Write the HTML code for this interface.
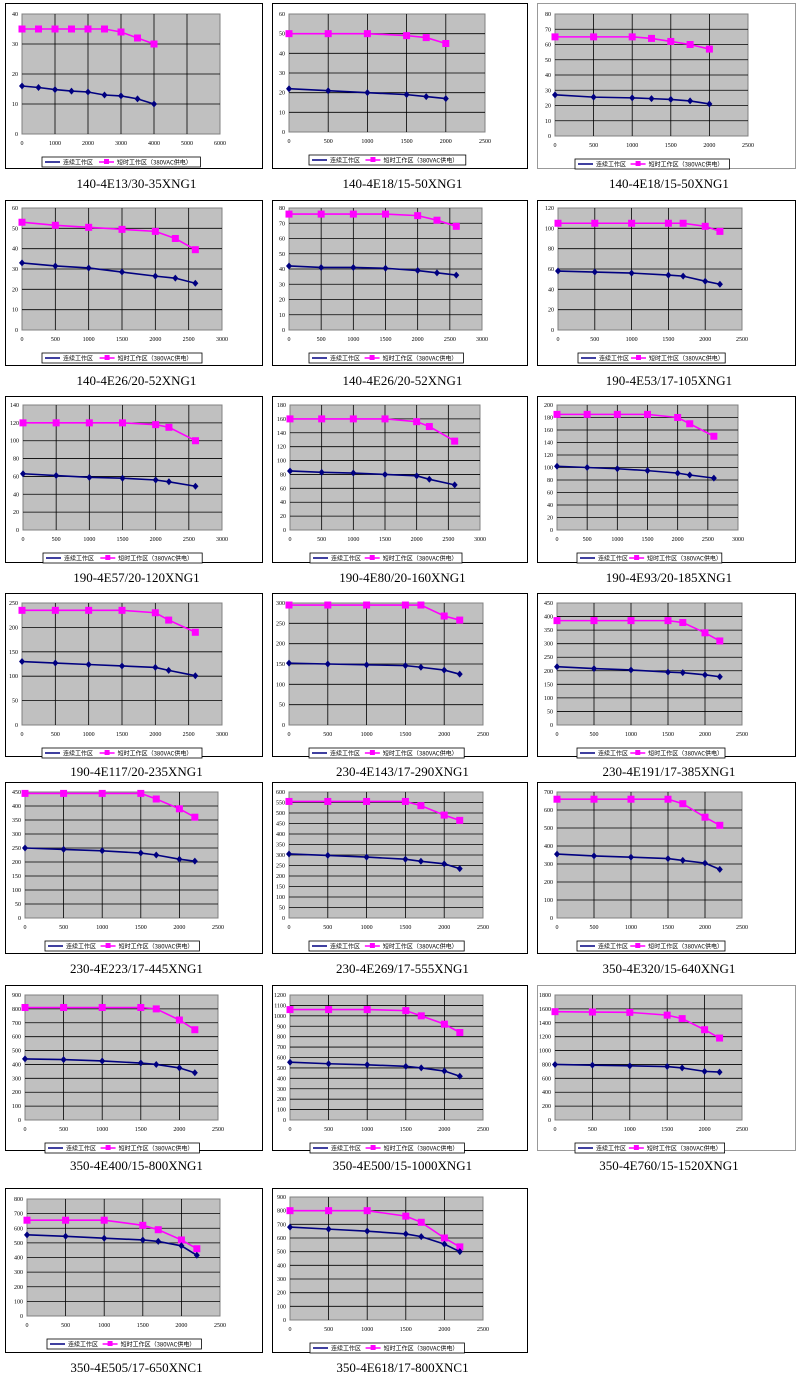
<!DOCTYPE html>
<html><head><meta charset="utf-8">
<style>
body{margin:0;background:#fff;width:800px;height:1384px;overflow:hidden}
svg{display:block}
</style></head><body>
<svg id="s" width="800" height="1384" xmlns="http://www.w3.org/2000/svg"></svg>
<script>
const C=[
// box x,y,w,h, plot l,r,t,b, xmax,xstep, ymax,ystep, caption, blue, pink
[5,3,257,165,22,220,14,134,6000,1000,40,10,"140-4E13/30-35XNG1",[[0,16],[500,15.5],[1000,14.8],[1500,14.3],[2000,14],[2500,13],[3000,12.7],[3500,11.7],[4000,10]],[[0,35],[500,35],[1000,35],[1500,35],[2000,35],[2500,35],[3000,34],[3500,32],[4000,30]]],
[272,3,255,165,289,485,14,132,2500,500,60,10,"140-4E18/15-50XNG1",[[0,22],[500,21],[1000,20],[1500,19],[1750,18],[2000,17]],[[0,50],[500,50],[1000,50],[1500,49],[1750,48],[2000,45]]],
[537,3,258,165,555,748,14,136,2500,500,80,10,"140-4E18/15-50XNG1",[[0,27],[500,25.5],[1000,25],[1250,24.5],[1500,24],[1750,23],[2000,21]],[[0,65],[500,65],[1000,65],[1250,64],[1500,62],[1750,60],[2000,57]]],
[5,200,257,165,22,222,208,330,3000,500,60,10,"140-4E26/20-52XNG1",[[0,33],[500,31.5],[1000,30.5],[1500,28.5],[2000,26.5],[2300,25.5],[2600,23]],[[0,53],[500,51.5],[1000,50.5],[1500,49.5],[2000,48.5],[2300,45],[2600,39.5]]],
[272,200,255,165,289,482,208,330,3000,500,80,10,"140-4E26/20-52XNG1",[[0,42],[500,41],[1000,41],[1500,40.5],[2000,39],[2300,37.5],[2600,36]],[[0,76],[500,76],[1000,76],[1500,76],[2000,75],[2300,72],[2600,68]]],
[537,200,258,165,558,742,208,330,2500,500,120,20,"190-4E53/17-105XNG1",[[0,58],[500,57],[1000,56],[1500,54],[1700,53],[2000,48],[2200,45]],[[0,105],[500,105],[1000,105],[1500,105],[1700,105],[2000,102],[2200,97]]],
[5,396,257,166,23,222,405,530,3000,500,140,20,"190-4E57/20-120XNG1",[[0,63],[500,61],[1000,59],[1500,58],[2000,56],[2200,54],[2600,49]],[[0,120],[500,120],[1000,120],[1500,120],[2000,118],[2200,115],[2600,100]]],
[272,396,255,166,290,480,405,530,3000,500,180,20,"190-4E80/20-160XNG1",[[0,85],[500,83],[1000,82],[1500,80],[2000,78],[2200,73],[2600,65]],[[0,160],[500,160],[1000,160],[1500,160],[2000,156],[2200,149],[2600,128]]],
[537,396,258,166,557,738,405,530,3000,500,200,20,"190-4E93/20-185XNG1",[[0,102],[500,100],[1000,98],[1500,95],[2000,91],[2200,88],[2600,83]],[[0,185],[500,185],[1000,185],[1500,185],[2000,180],[2200,170],[2600,150]]],
[5,593,257,163,22,222,603,725,3000,500,250,50,"190-4E117/20-235XNG1",[[0,130],[500,127],[1000,124],[1500,121],[2000,118],[2200,112],[2600,101]],[[0,235],[500,235],[1000,235],[1500,235],[2000,230],[2200,215],[2600,190]]],
[272,593,255,163,289,483,603,725,2500,500,300,50,"230-4E143/17-290XNG1",[[0,152],[500,150],[1000,148],[1500,146],[1700,142],[2000,135],[2200,125]],[[0,295],[500,295],[1000,295],[1500,295],[1700,295],[2000,268],[2200,258]]],
[537,593,258,163,557,742,603,725,2500,500,450,50,"230-4E191/17-385XNG1",[[0,215],[500,208],[1000,203],[1500,195],[1700,193],[2000,185],[2200,178]],[[0,385],[500,385],[1000,385],[1500,385],[1700,378],[2000,340],[2200,310]]],
[5,782,257,171,25,218,792,918,2500,500,450,50,"230-4E223/17-445XNG1",[[0,250],[500,245],[1000,240],[1500,232],[1700,225],[2000,210],[2200,203]],[[0,445],[500,445],[1000,445],[1500,445],[1700,425],[2000,390],[2200,360]]],
[272,782,255,171,289,483,792,918,2500,500,600,50,"230-4E269/17-555XNG1",[[0,305],[500,298],[1000,290],[1500,280],[1700,270],[2000,258],[2200,235]],[[0,555],[500,555],[1000,555],[1500,555],[1700,535],[2000,490],[2200,465]]],
[537,782,258,171,557,742,792,918,2500,500,700,100,"350-4E320/15-640XNG1",[[0,355],[500,345],[1000,338],[1500,330],[1700,320],[2000,305],[2200,270]],[[0,660],[500,660],[1000,660],[1500,660],[1700,635],[2000,560],[2200,515]]],
[5,985,257,165,25,218,995,1120,2500,500,900,100,"350-4E400/15-800XNG1",[[0,440],[500,435],[1000,425],[1500,410],[1700,400],[2000,375],[2200,340]],[[0,810],[500,810],[1000,810],[1500,810],[1700,800],[2000,720],[2200,650]]],
[272,985,255,165,290,483,995,1120,2500,500,1200,100,"350-4E500/15-1000XNG1",[[0,555],[500,540],[1000,530],[1500,515],[1700,500],[2000,470],[2200,420]],[[0,1060],[500,1060],[1000,1060],[1500,1050],[1700,1000],[2000,920],[2200,840]]],
[537,985,258,165,555,742,995,1120,2500,500,1800,200,"350-4E760/15-1520XNG1",[[0,800],[500,790],[1000,780],[1500,770],[1700,750],[2000,700],[2200,690]],[[0,1560],[500,1555],[1000,1550],[1500,1510],[1700,1460],[2000,1300],[2200,1180]]],
[5,1188,257,164,27,220,1199,1316,2500,500,800,100,"350-4E505/17-650XNC1",[[0,555],[500,545],[1000,532],[1500,520],[1700,510],[2000,480],[2200,415]],[[0,655],[500,655],[1000,655],[1500,620],[1700,590],[2000,520],[2200,460]]],
[272,1188,255,164,290,483,1197,1320,2500,500,900,100,"350-4E618/17-800XNC1",[[0,680],[500,665],[1000,650],[1500,630],[1700,610],[2000,555],[2200,500]],[[0,800],[500,800],[1000,800],[1500,760],[1700,715],[2000,600],[2200,535]]]
];
let h='';
C.forEach((c,i)=>{
 const [bx,by,bw,bh,l,r,t,b,xm,xs,ym,ys,cap,bl,pk]=c;
 const X=v=>l+(r-l)*v/xm, Y=v=>b-(b-t)*v/ym;
 h+=`<rect x="${bx+.5}" y="${by+.5}" width="${bw}" height="${bh}" fill="#fff" stroke="${i==2||i==17?'#999':'#000'}"/>`;
 h+=`<rect x="${l}" y="${t}" width="${r-l}" height="${b-t}" fill="#c0c0c0" stroke="#808080"/>`;
 for(let v=ys;v<ym;v+=ys)h+=`<line x1="${l}" x2="${r}" y1="${Y(v)}" y2="${Y(v)}" stroke="#000" stroke-width=".8"/>`;
 for(let v=xs;v<xm;v+=xs)h+=`<line y1="${t}" y2="${b}" x1="${X(v)}" x2="${X(v)}" stroke="#000" stroke-width=".8"/>`;
 for(let v=0;v<=ym;v+=ys)h+=`<text x="${l-4}" y="${Y(v)+2}" font-size="6" text-anchor="end">${v}</text>`;
 for(let v=0;v<=xm;v+=xs)h+=`<text x="${X(v)}" y="${b+11}" font-size="6" text-anchor="middle">${v}</text>`;
 const P=a=>a.map(p=>X(p[0])+','+Y(p[1])).join(' ');
 h+=`<polyline points="${P(pk)}" fill="none" stroke="#f0f" stroke-width="1.6"/>`;
 pk.forEach(p=>h+=`<rect x="${X(p[0])-3.5}" y="${Y(p[1])-3.5}" width="7" height="7" fill="#f0f"/>`);
 h+=`<polyline points="${P(bl)}" fill="none" stroke="#000080" stroke-width="1.6"/>`;
 bl.forEach(p=>h+=`<path d="M${X(p[0])} ${Y(p[1])-3.5}l3 3.5l-3 3.5l-3-3.5z" fill="#000080"/>`);
 const ly=b+23, lx=l+20, lw=(r-l)*0.8;
 h+=`<rect x="${lx}" y="${ly}" width="${lw}" height="10" fill="#fff" stroke="#000" stroke-width=".8"/>`;
 h+=`<line x1="${lx+3}" x2="${lx+18}" y1="${ly+5}" y2="${ly+5}" stroke="#000080" stroke-width="1.5"/>`;
 h+=`<text x="${lx+21}" y="${ly+7.5}" font-size="6" font-family="Noto Sans CJK SC,sans-serif">连续工作区</text>`;
 const mx=lx+lw*0.36;
 h+=`<line x1="${mx}" x2="${mx+15}" y1="${ly+5}" y2="${ly+5}" stroke="#f0f" stroke-width="1.5"/><rect x="${mx+5}" y="${ly+2}" width="5" height="5" fill="#f0f"/>`;
 h+=`<text x="${mx+18}" y="${ly+7.5}" font-size="6" font-family="Noto Sans CJK SC,sans-serif">短时工作区（380VAC供电）</text>`;
 h+=`<text x="${bx+bw/2+3}" y="${by+bh+20}" font-size="13" text-anchor="middle" font-family="Liberation Serif,serif">${cap}</text>`;
});
document.getElementById('s').innerHTML=h;
</script>
</body></html>
